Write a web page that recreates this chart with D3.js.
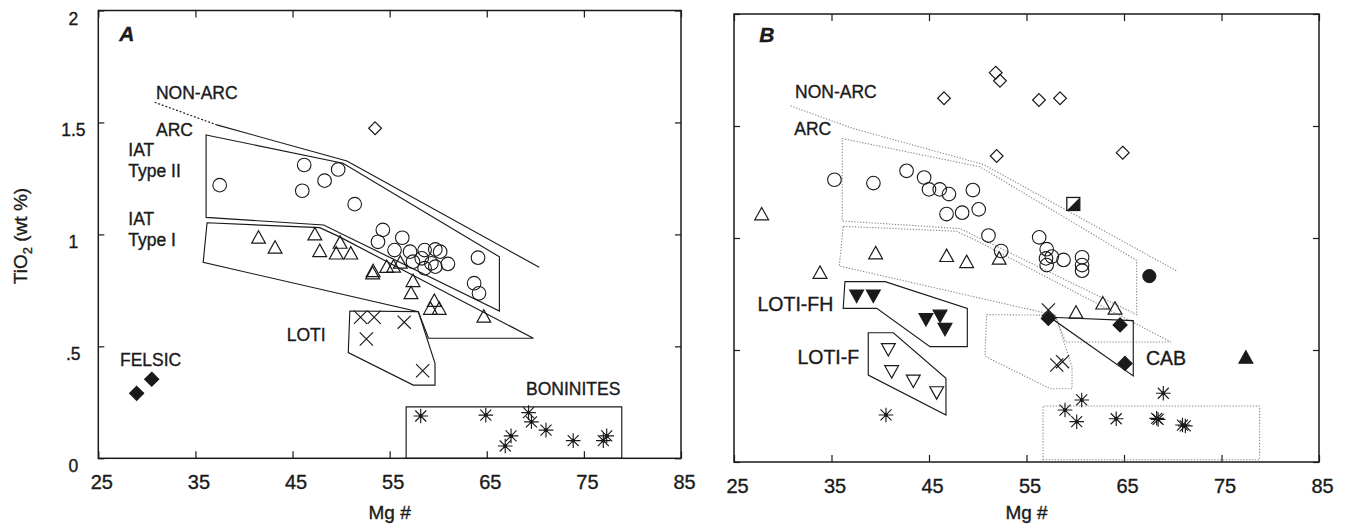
<!DOCTYPE html>
<html>
<head>
<meta charset="utf-8">
<script src="https://cdn.jsdelivr.net/npm/d3@7"></script>
<style>
html,body{margin:0;padding:0;background:#fff;}
svg{display:block;font-family:"Liberation Sans",Arial,sans-serif;}
svg text{stroke:#1a1a1a;stroke-width:0.35px;}
</style>
</head>
<body>
<svg id="chart" width="1346" height="527"></svg>
<script>
// ---------- axis / tick data ----------
const xTicks = [25, 35, 45, 55, 65, 75, 85];
const yTicks = [0, 0.5, 1, 1.5, 2];
const yTickLabels = ["0", ".5", "1", "1.5", "2"];

// ---------- reference fields (Mg#, TiO2) ----------
const fieldArcLine = [[30.8, 1.59], [37.2, 1.489], [50.6, 1.328], [70.4, 0.853]];
const fieldIAT2 = [[36.1, 1.444], [50.2, 1.318], [66.3, 0.90], [66.3, 0.658], [48.2, 1.042], [36.1, 1.076]];
const fieldIAT1 = [[36.2, 1.052], [47.8, 1.030], [49.8, 0.99], [69.8, 0.536], [59.0, 0.536], [57.95, 0.655], [35.8, 0.875]];
const fieldLOTI = [[50.9, 0.658], [57.95, 0.655], [59.67, 0.424], [59.67, 0.327], [57.43, 0.327], [50.74, 0.472]];
const fieldBoninA = [[56.7, 0], [78.9, 0], [78.9, 0.23], [56.7, 0.23]];
const fieldBoninB = [[56.7, 0.01], [78.9, 0.01], [78.9, 0.25], [56.7, 0.25]];

// ---------- panel A samples ----------
const aCircles = [[37.5,1.22],[46.2,1.31],[46.0,1.195],[48.3,1.24],[49.7,1.29],[51.4,1.135],[54.3,1.02],[53.8,0.967],[56.3,0.985],[55.5,0.93],[57.1,0.923],[57.4,0.878],[58.6,0.93],[59.7,0.933],[60.2,0.923],[58.3,0.893],[59.3,0.871],[58.6,0.849],[59.7,0.856],[61.0,0.868],[64.1,0.896],[63.7,0.782],[64.2,0.737]];
const aTriangles = [[41.5,0.983],[43.2,0.938],[47.3,0.997],[47.8,0.923],[49.9,0.96],[49.5,0.912],[51.0,0.912],[53.25,0.823],[53.3,0.833],[54.7,0.852],[55.4,0.853],[56.1,0.871],[57.4,0.789],[57.2,0.735],[59.6,0.70],[59.2,0.665],[60.1,0.665],[64.7,0.63]];
const aDiamondsOpen = [[53.5,1.474]];
const aFelsic = [[28.95,0.29],[30.5,0.353]];
const aCrosses = [[52.0,0.63],[53.4,0.63],[56.5,0.608],[52.6,0.533],[58.4,0.391]];
const aStars = [[58.2,0.189],[64.9,0.193],[69.3,0.204],[69.6,0.163],[71.1,0.126],[67.5,0.10],[66.9,0.055],[73.9,0.079],[77.0,0.079],[77.35,0.10]];

// ---------- panel B samples ----------
const bCircles = [[35.3,1.26],[39.3,1.245],[42.7,1.30],[44.5,1.27],[45.0,1.217],[46.1,1.217],[47.05,1.196],[49.5,1.214],[46.8,1.107],[48.4,1.113],[50.1,1.128],[51.1,1.011],[52.4,0.942],[56.3,1.003],[57.07,0.95],[57.0,0.909],[57.07,0.879],[57.6,0.917],[58.8,0.902],[60.7,0.914],[60.7,0.879],[60.7,0.854]];
const bTriangles = [[27.84,1.103],[33.82,0.842],[39.53,0.929],[46.81,0.917],[48.86,0.89],[52.2,0.905],[60.08,0.664],[62.82,0.705],[64.08,0.682]];
const bDiamondsOpen = [[51.84,1.738],[52.28,1.702],[46.54,1.624],[56.28,1.616],[58.44,1.624],[51.94,1.366],[64.87,1.381]];
const bHalfSquares = [[59.8,1.152]];
const bFilledCircles = [[67.6,0.83]];
const bFilledTriUp = [[77.5,0.463]];
const bFilledDiamonds = [[57.24,0.641],[64.6,0.612],[65.1,0.44]];
const bCrosses = [[57.24,0.679],[58.1,0.433],[58.7,0.448]];
const bFilledTriDown = [[37.58,0.746],[39.29,0.746],[44.69,0.641],[46.13,0.656],[46.64,0.597]];
const bOpenTriDown = [[40.83,0.507],[41.17,0.408],[43.39,0.366],[45.79,0.314]];
const bStars = [[40.59,0.21],[58.95,0.232],[60.66,0.277],[60.15,0.18],[64.2,0.193],[68.35,0.195],[68.5,0.19],[69.03,0.307],[71.29,0.161],[71.0,0.165]];
const bLotiFH = [[36.38,0.805],[40.49,0.805],[48.93,0.686],[48.93,0.515],[45.1,0.515],[39.64,0.686],[36.2,0.686]];
const bLotiF = [[38.77,0.577],[41.34,0.577],[46.74,0.374],[46.74,0.21],[38.77,0.388]];
const bCAB = [[57.41,0.646],[65.95,0.631],[65.95,0.384]];

// ---------- annotation text (data coordinates) ----------
const aLabels = [
  {t:"NON-ARC", x:30.94, y:1.605}, {t:"ARC", x:30.94, y:1.441},
  {t:"IAT", x:28.09, y:1.349}, {t:"Type II", x:28.09, y:1.255},
  {t:"IAT", x:28.09, y:1.044}, {t:"Type I", x:28.09, y:0.950},
  {t:"LOTI", x:44.40, y:0.523}, {t:"FELSIC", x:27.23, y:0.414},
  {t:"BONINITES", x:69.04, y:0.2845}
];
const bLabels = [
  {t:"NON-ARC", x:31.26, y:1.625}, {t:"ARC", x:31.18, y:1.462}
];
const bBigLabels = [
  {t:"LOTI-FH", x:27.41, y:0.676}, {t:"LOTI-F", x:31.50, y:0.436}, {t:"CAB", x:67.26, y:0.432}
];

// ---------- drawing ----------
const svg = d3.select("#chart");
const INK = "#1a1a1a";

const panels = [
  {id:"A", x:d3.scaleLinear([25,85],[98.3,681]), y:d3.scaleLinear([0,2],[458.3,10.5]), yLabels:true, fieldStyle:{stroke:INK, dash:null, w:1.15}, boninField:fieldBoninA, letter:{x:27.16, y:1.866}},
  {id:"B", x:d3.scaleLinear([25,85],[734,1319]), y:d3.scaleLinear([0,2],[462,14]), yLabels:false, fieldStyle:{stroke:"#8a8a8a", dash:"1.3,1.6", w:1.1}, boninField:fieldBoninB, letter:{x:27.59, y:1.874}}
];

function marker(g, type, px, py) {
  const s = INK;
  switch (type) {
    case "circle":
      g.append("circle").attr("cx",px).attr("cy",py).attr("r",6.8).attr("fill","none").attr("stroke",s).attr("stroke-width",1.1);
      break;
    case "circleFilled":
      g.append("circle").attr("cx",px).attr("cy",py).attr("r",6.6).attr("fill",s).attr("stroke",s);
      break;
    case "triUp":
    case "triUpFilled": {
      const p = [[px,py-7.5],[px+6.9,py+4.9],[px-6.9,py+4.9]];
      g.append("polygon").attr("points",p.join(" ")).attr("fill",type==="triUp"?"none":s).attr("stroke",s).attr("stroke-width",1.2);
      break; }
    case "triDown":
    case "triDownFilled": {
      const p = [[px,py+7.5],[px+6.9,py-4.9],[px-6.9,py-4.9]];
      g.append("polygon").attr("points",p.join(" ")).attr("fill",type==="triDown"?"none":s).attr("stroke",s).attr("stroke-width",1.2);
      break; }
    case "diamond":
    case "diamondFilled": {
      const h = type==="diamond"?6.4:7;
      const p = [[px,py-h],[px+h,py],[px,py+h],[px-h,py]];
      g.append("polygon").attr("points",p.join(" ")).attr("fill",type==="diamond"?"none":s).attr("stroke",s).attr("stroke-width",1.2);
      break; }
    case "cross": {
      const h = 6.6;
      g.append("path").attr("d",`M${px-h},${py-h}L${px+h},${py+h}M${px-h},${py+h}L${px+h},${py-h}`).attr("stroke",s).attr("stroke-width",1.15).attr("fill","none");
      break; }
    case "star": {
      const h = 7.3, d = 5.5;
      g.append("path").attr("d",`M${px},${py-h}L${px},${py+h}M${px-d},${py-d}L${px+d},${py+d}M${px-d},${py+d}L${px+d},${py-d}M${px-h},${py}L${px+h},${py}`).attr("stroke",s).attr("stroke-width",1.15).attr("fill","none");
      g.append("circle").attr("cx",px).attr("cy",py).attr("r",1.9).attr("fill",s);
      break; }
    case "halfSquare": {
      const h = 6.5;
      g.append("rect").attr("x",px-h).attr("y",py-h).attr("width",2*h).attr("height",2*h).attr("fill","none").attr("stroke",s).attr("stroke-width",1.3);
      g.append("polygon").attr("points",[[px+h,py-h],[px+h,py+h],[px-h,py+h]].join(" ")).attr("fill",s);
      break; }
  }
}

panels.forEach(P => {
  const g = svg.append("g");
  const x = P.x, y = P.y;
  const line = d3.line().x(d => x(d[0])).y(d => y(d[1]));
  const closed = d3.line().x(d => x(d[0])).y(d => y(d[1])).curve(d3.curveLinearClosed);
  const fs = P.fieldStyle;

  // frame
  g.append("rect").attr("x",x(25)).attr("y",y(2)).attr("width",x(85)-x(25)).attr("height",y(0)-y(2))
    .attr("fill","none").attr("stroke",INK).attr("stroke-width",1.5);

  // axes (inward ticks)
  const axB = d3.axisBottom(x).tickValues(xTicks).tickSize(-7).tickFormat(d3.format("d"));
  const gB = g.append("g").attr("transform",`translate(0,${y(0)})`).call(axB);
  gB.select(".domain").remove();
  gB.selectAll("line").attr("stroke",INK).attr("stroke-width",1.2);
  gB.selectAll("text").attr("y",31).attr("dy",null).attr("dx",3).attr("font-size",20).attr("fill",INK)
    .attr("font-family",'"Liberation Sans",Arial,sans-serif');

  const gT = g.append("g").attr("transform",`translate(0,${y(2)})`).call(d3.axisTop(x).tickValues(xTicks).tickSize(-7).tickFormat(""));
  gT.select(".domain").remove();
  gT.selectAll("line").attr("stroke",INK).attr("stroke-width",1.2);

  const gL = g.append("g").attr("transform",`translate(${x(25)},0)`)
    .call(d3.axisLeft(y).tickValues(yTicks).tickSize(-6).tickFormat((d,i) => P.yLabels ? yTickLabels[i] : ""));
  gL.select(".domain").remove();
  gL.selectAll("line").attr("stroke",INK).attr("stroke-width",1.2);
  gL.selectAll("text").attr("x",-25).attr("dy",13.5).attr("text-anchor","middle").attr("font-size",17.5).attr("fill",INK)
    .attr("font-family",'"Liberation Sans",Arial,sans-serif');

  const gR = g.append("g").attr("transform",`translate(${x(85)},0)`).call(d3.axisRight(y).tickValues(yTicks).tickSize(-6).tickFormat(""));
  gR.select(".domain").remove();
  gR.selectAll("line").attr("stroke",INK).attr("stroke-width",1.2);

  // x-axis title
  g.append("text").attr("x",(x(25)+x(85))/2).attr("y",519).attr("text-anchor","middle").attr("font-size",19).attr("fill",INK).text("Mg #");

  // fields
  const fg = g.append("g").attr("fill","none").attr("stroke",fs.stroke).attr("stroke-width",fs.w).attr("stroke-dasharray",fs.dash);
  if (P.id === "A") {
    fg.append("path").attr("d",line(fieldArcLine.slice(0,2))).attr("stroke-dasharray","2,1.8");
    fg.append("path").attr("d",line(fieldArcLine.slice(1)));
  } else {
    fg.append("path").attr("d",line(fieldArcLine));
  }
  fg.append("path").attr("d",closed(fieldIAT2));
  fg.append("path").attr("d",closed(fieldIAT1));
  fg.append("path").attr("d",closed(fieldLOTI));
  fg.append("path").attr("d",closed(P.boninField));

  if (P.id === "B") {
    const sg = g.append("g").attr("fill","none").attr("stroke",INK).attr("stroke-width",1.15);
    [bLotiFH, bLotiF, bCAB].forEach(poly => sg.append("path").attr("d",closed(poly)));
  }

  // markers
  const mg = g.append("g");
  const plot = (arr, type) => arr.forEach(d => marker(mg, type, x(d[0]), y(d[1])));
  if (P.id === "A") {
    plot(aCircles,"circle"); plot(aTriangles,"triUp"); plot(aDiamondsOpen,"diamond");
    plot(aFelsic,"diamondFilled"); plot(aCrosses,"cross"); plot(aStars,"star");
  } else {
    plot(bCircles,"circle"); plot(bTriangles,"triUp"); plot(bDiamondsOpen,"diamond");
    plot(bHalfSquares,"halfSquare"); plot(bFilledCircles,"circleFilled"); plot(bFilledTriUp,"triUpFilled");
    plot(bFilledDiamonds,"diamondFilled"); plot(bCrosses,"cross"); plot(bFilledTriDown,"triDownFilled");
    plot(bOpenTriDown,"triDown"); plot(bStars,"star");
  }

  // labels
  const lg = g.append("g").attr("fill",INK);
  (P.id === "A" ? aLabels : bLabels).forEach(l =>
    lg.append("text").attr("x",x(l.x)).attr("y",y(l.y)).attr("font-size",17.5).text(l.t));
  if (P.id === "B") bBigLabels.forEach(l =>
    lg.append("text").attr("x",x(l.x)).attr("y",y(l.y)).attr("font-size",19.5).text(l.t));
  lg.append("text").attr("x",x(P.letter.x)).attr("y",y(P.letter.y)).attr("font-size",21).attr("font-weight","bold").attr("font-style","italic").text(P.id);
});

// y-axis title
const yt = svg.append("text").attr("transform","translate(27,236) rotate(-90)").attr("text-anchor","middle").attr("font-size",19).attr("fill",INK);
yt.append("tspan").text("TiO");
yt.append("tspan").attr("font-size",13).attr("dy",5).text("2");
yt.append("tspan").attr("dy",-5).text(" (wt %)");
</script>
</body>
</html>
